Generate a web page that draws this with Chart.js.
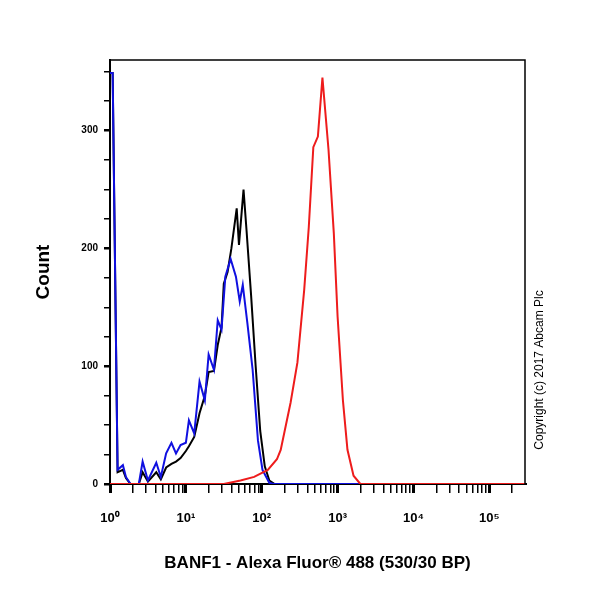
<!DOCTYPE html>
<html><head><meta charset="utf-8">
<script src="https://cdn.jsdelivr.net/npm/chart.js@4/dist/chart.umd.min.js"></script>
<style>body{margin:0;background:#fff}</style></head>
<body><canvas id="c" width="600" height="600"></canvas>
<script>
// x in log10 decades of fluorescence, y = count
const blueX=[0,0.035,0.1,0.17,0.21,0.27,0.38,0.43,0.5,0.61,0.67,0.74,0.81,0.87,0.93,1.0,1.04,1.11,1.18,1.25,1.3,1.37,1.42,1.47,1.52,1.59,1.66,1.71,1.75,1.81,1.88,1.95,2.01,2.1,2.15,5.47];
const blueY=[349,349,12,16,6,0,0,19,3,18,6,26,35,26,33,35,54,43,87,71,110,97,139,131,176,191,176,155,169,137,97,37,12,1,0,0];
const blackX=[0,0.035,0.1,0.17,0.21,0.27,0.38,0.43,0.5,0.61,0.67,0.74,0.81,0.87,0.93,1.0,1.04,1.11,1.18,1.25,1.3,1.37,1.42,1.47,1.5,1.55,1.6,1.67,1.7,1.76,1.8,1.86,1.92,1.98,2.04,2.1,2.17,5.47];
const blackY=[349,349,10,12,5,0,0,10,2,10,4,14,17,19,22,28,32,40,60,75,95,96,118,133,170,180,200,234,203,250,215,160,100,45,15,3,0,0];
const redX=[0,1.5,1.72,1.9,2.08,2.2,2.25,2.38,2.47,2.56,2.62,2.68,2.74,2.8,2.88,2.95,3.0,3.07,3.13,3.21,3.3,5.47];
const redY=[0,0,3,6,12,21,29,69,103,165,218,286,295,345,284,213,142,71,29,7,0,0];
const xTickLabels=['10⁰','10¹','10²','10³','10⁴','10⁵'];
const yTickValues=[0,100,200,300];

const pts=(xs,ys)=>xs.map((x,i)=>({x,y:ys[i]}));
const frame={id:'frame',afterDraw(c){const a=c.chartArea,g=c.ctx;g.save();g.strokeStyle='#000';g.lineWidth=1.5;
 g.beginPath();g.moveTo(a.left,a.top);g.lineTo(a.right,a.top);g.lineTo(a.right,a.bottom);g.stroke();
 g.translate(540,370);g.rotate(-Math.PI/2);g.font='12px "Liberation Sans"';g.fillStyle='#000';g.textAlign='center';g.textBaseline='middle';
 g.fillText('Copyright (c) 2017 Abcam Plc',0,0);g.restore();}};
new Chart(document.getElementById('c'),{type:'scatter',
 data:{datasets:[
  {data:pts(redX,redY),borderColor:'#ee1c1c',showLine:true,pointRadius:0,borderWidth:2,tension:0},
  {data:pts(blueX,blueY),borderColor:'#1010e0',showLine:true,pointRadius:0,borderWidth:2,tension:0},
  {data:pts(blackX,blackY),borderColor:'#000',showLine:true,pointRadius:0,borderWidth:2,tension:0}]},
 options:{responsive:false,animation:false,
  layout:{padding:{top:60,right:75,left:28,bottom:22}},
  plugins:{legend:{display:false},tooltip:{enabled:false}},
  scales:{
   x:{type:'linear',min:0,max:5.47,
    afterBuildTicks(s){const t=[];for(let d=0;d<=5;d++){t.push({value:d,major:true});for(let k=2;k<=9;k++){const v=d+Math.log10(k);if(v<=5.47)t.push({value:v});}}s.ticks=t;},
    afterFit(s){s.height=94;},
    border:{color:'#000',width:2},
    grid:{drawOnChartArea:false,tickLength:9,color:'#000',lineWidth:c=>c.tick&&c.tick.major?3:1.5},
    ticks:{autoSkip:false,maxRotation:0,padding:18,color:'#000',font:{family:'Liberation Sans',size:13,weight:'bold'},
     callback:(v)=>Number.isInteger(v)?xTickLabels[v]:''},
    title:{display:true,text:'BANF1 - Alexa Fluor® 488 (530/30 BP)',color:'#000',font:{family:'Liberation Sans',size:17,weight:'bold'},padding:{top:22}}},
   y:{type:'linear',min:0,max:360,
    afterBuildTicks(s){const t=[];for(let v=0;v<=350;v+=25)t.push({value:v,major:yTickValues.includes(v)});s.ticks=t;},
    afterFit(s){s.width=82;},
    border:{color:'#000',width:2},
    grid:{drawOnChartArea:false,tickLength:6,color:'#000',lineWidth:c=>c.tick&&c.tick.major?2.5:1.5},
    ticks:{autoSkip:false,padding:6,color:'#000',font:{family:'Liberation Sans',size:10,weight:'bold'},
     callback:(v)=>yTickValues.includes(v)?String(v):''},
    title:{display:true,text:'Count',color:'#000',font:{family:'Liberation Sans',size:19,weight:'bold'},padding:{bottom:36}}}}},
 plugins:[frame]});
</script></body></html>
